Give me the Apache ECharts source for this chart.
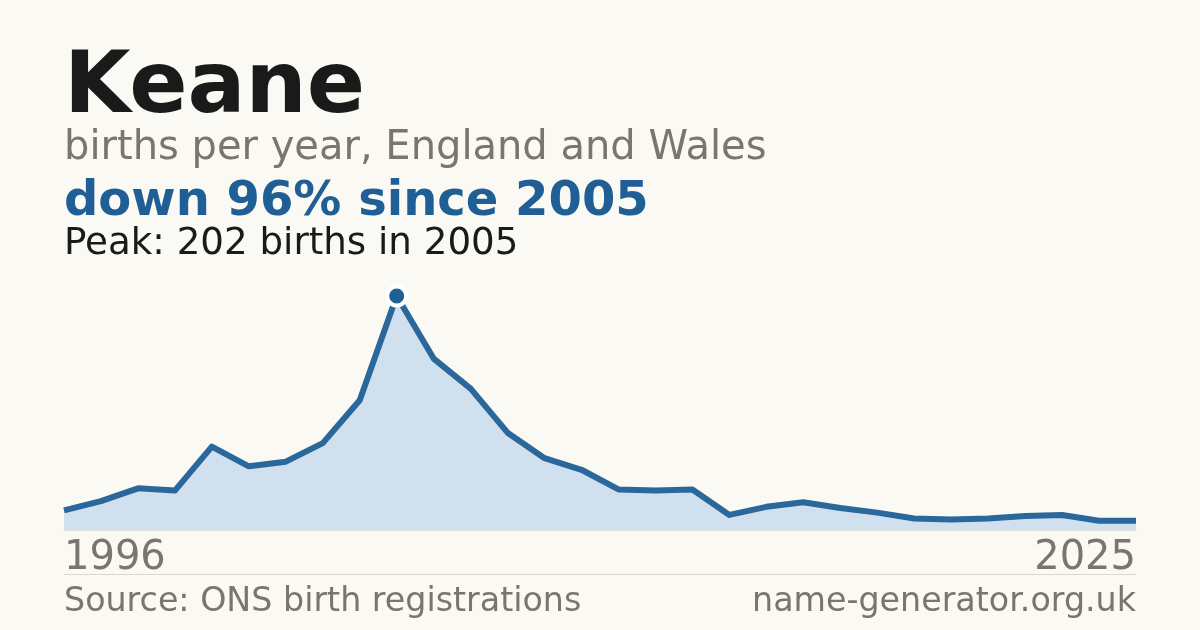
<!DOCTYPE html>
<html lang="en" style="height: 100%">

<head>
  <meta charset="utf-8">
  <title>Keane births per year</title>
  <script src="https://cdn.jsdelivr.net/npm/echarts@6.0.0/dist/echarts.min.js"></script>
</head>

<body style="height: 100%; margin: 0; background: #faf9f4">
  <div id="chart" style="height: 630px; width: 1200px"></div>
  <script type="text/javascript">
    // births per year
    const years = [
      '1996', '1997', '1998', '1999', '2000', '2001', '2002', '2003', '2004', '2005',
      '2006', '2007', '2008', '2009', '2010', '2011', '2012', '2013', '2014', '2015',
      '2016', '2017', '2018', '2019', '2020', '2021', '2022', '2023', '2024', '2025'
    ];
    const births = [
      17, 25, 36, 34, 72, 55, 59, 75, 112, 202,
      148, 122, 84, 62, 52, 35, 34, 35, 13, 20,
      24, 19, 15, 10, 9, 10, 12, 13, 8, 8
    ];
    const titleText = 'Keane';
    const subtitleText = 'births per year, England and Wales';
    const changeText = 'down 96% since 2005';
    const peakText = 'Peak: 202 births in 2005';
    const sourceText = 'Source: ONS birth registrations';
    const siteText = 'name-generator.org.uk';

    const font = '"DejaVu Sans", sans-serif';
    const blue = '#1f5f95';
    const grey = '#7a756d';

    const chart = echarts.init(document.getElementById('chart'));
    const lastIdx = years.length - 1;

    const option = {
      backgroundColor: '#faf9f4',
      animation: false,
      grid: { left: 64, right: 64, top: 296, bottom: 100 },
      xAxis: {
        type: 'category',
        data: years,
        boundaryGap: false,
        axisTick: { show: false },
        axisLine: { show: true, lineStyle: { color: '#e4e0d6', width: 1 } },
        axisLabel: {
          interval: (i) => i === 0 || i === lastIdx,
          alignMinLabel: 'left',
          alignMaxLabel: 'right',
          color: grey,
          fontFamily: font,
          fontSize: 40,
          margin: 9
        }
      },
      yAxis: {
        type: 'value',
        min: 0,
        max: Math.max(...births),
        show: false,
        splitLine: { show: false }
      },
      series: [{
        type: 'line',
        data: births,
        showSymbol: false,
        lineStyle: { color: '#2a679b', width: 6, join: 'round' },
        areaStyle: { color: '#d0e0ef', opacity: 1 },
        markPoint: {
          symbol: 'circle',
          symbolSize: 19,
          itemStyle: { color: blue, borderColor: '#ffffff', borderWidth: 4 },
          label: { show: false },
          data: [{ type: 'max' }]
        }
      }],
      graphic: [
        {
          type: 'text', left: 64, top: 47,
          style: { text: titleText, font: 'bold 86px ' + font, fill: '#1a1a1a' }
        },
        {
          type: 'text', left: 64, top: 129,
          style: { text: subtitleText, font: '40px ' + font, fill: grey }
        },
        {
          type: 'text', left: 64, top: 179,
          style: { text: changeText, font: 'bold 48px ' + font, fill: blue }
        },
        {
          type: 'text', left: 64, top: 226,
          style: { text: peakText, font: '37.2px ' + font, fill: '#1a1a1a' }
        },
        {
          type: 'line',
          shape: { x1: 64, y1: 574.5, x2: 1136, y2: 574.5 },
          style: { stroke: '#dcd8cf', lineWidth: 1 }
        },
        {
          type: 'text', left: 64, top: 586,
          style: { text: sourceText, font: '33.3px ' + font, fill: grey }
        },
        {
          type: 'text', right: 64, top: 586,
          style: { text: siteText, font: '33.3px ' + font, fill: grey }
        }
      ]
    };
    chart.setOption(option);
  </script>
</body>

</html>
